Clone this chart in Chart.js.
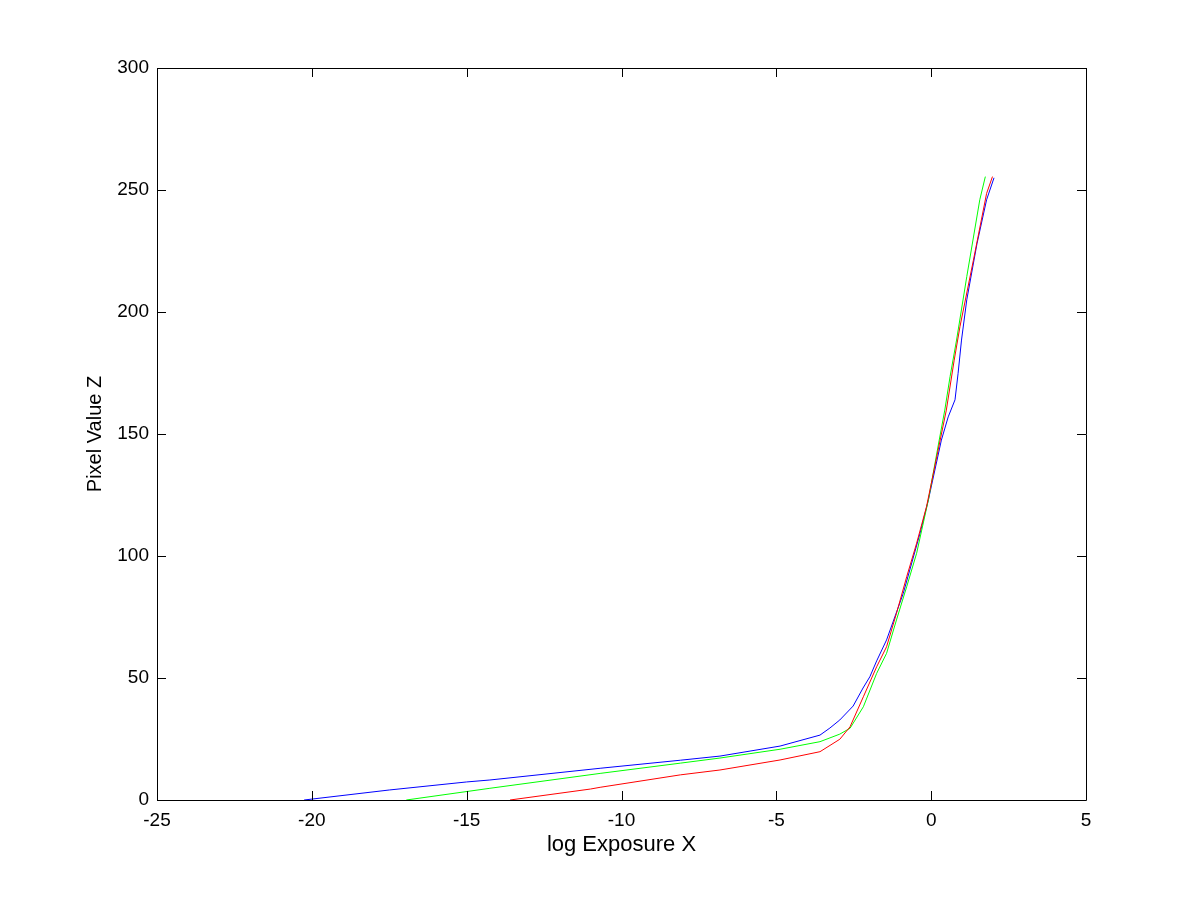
<!DOCTYPE html>
<html>
<head>
<meta charset="utf-8">
<title>Response curves</title>
<script src="https://cdn.jsdelivr.net/npm/chart.js@4.4.0/dist/chart.umd.min.js"></script>
<style>
  html, body { margin: 0; padding: 0; background: #fff; }
</style>
</head>
<body>
<canvas id="chart" width="1200" height="900"></canvas>
<script>
// ---- data (log exposure -> pixel value) ----
const redX   = [-13.6, -11, -10.69, -8.1, -6.82, -4.88, -3.59, -2.95, -2.62, -2.19, -1.76, -1.44, -1.12, -0.79, -0.47, -0.15, 0.49, 0.74, 0.93, 1.36, 1.79, 1.98];
const redY   = [0, 4.5, 5.2, 10.3, 12.3, 16.4, 19.8, 24.9, 30, 42.3, 54.6, 62.8, 76.5, 91.5, 105.2, 120.2, 159.8, 180, 194, 221, 248.6, 255.5];

const greenX = [-16.95, -14.25, -10.69, -8.1, -6.82, -4.88, -3.59, -2.95, -2.62, -2.19, -1.76, -1.44, -1.12, -0.79, -0.47, -0.09, 0.26, 0.44, 0.61, 0.82, 1.15, 1.57, 1.75];
const greenY = [0, 4.8, 10.9, 15.1, 17.2, 20.8, 23.9, 27, 29.4, 38.2, 51.9, 60.1, 73.8, 87.4, 101.1, 123, 147.5, 159.8, 173.5, 188.5, 214.5, 246, 255.5];

const blueX  = [-20.25, -17.5, -15, -14.25, -10.69, -8.1, -6.82, -4.88, -3.59, -3.27, -2.95, -2.52, -2.2, -1.98, -1.76, -1.44, -0.9, -0.36, -0.09, 0.33, 0.55, 0.77, 0.87, 0.98, 1.15, 1.48, 1.79, 2.03];
const blueY  = [0, 4.1, 7.4, 8.2, 13, 16.3, 18, 22.1, 26.6, 29.5, 32.8, 38.5, 45.9, 50.5, 57, 65.6, 84.7, 109.3, 123, 147.5, 157, 164, 174.9, 188.5, 205, 228, 246, 255];

const xTicks = [-25, -20, -15, -10, -5, 0, 5];
const yTicks = [0, 50, 100, 150, 200, 250, 300];

const FONT = '"Liberation Sans", Arial, Helvetica, sans-serif';

function toPoints(xs, ys) {
  return xs.map((x, i) => ({ x, y: ys[i] }));
}

function line(label, color, xs, ys) {
  return {
    label,
    data: toPoints(xs, ys),
    borderColor: color,
    backgroundColor: color,
    borderWidth: 1,
    pointRadius: 0,
    tension: 0,
    fill: false
  };
}

// box around the axes + inward tick marks on all four sides
const boxTicks = {
  id: 'boxTicks',
  afterDraw(chart) {
    const { ctx, chartArea: a, scales } = chart;
    const L = 9;
    const px = v => Math.round(v) + 0.5;
    ctx.save();
    ctx.strokeStyle = '#000';
    ctx.lineWidth = 1;
    ctx.beginPath();
    ctx.rect(px(a.left), px(a.top), Math.round(a.right) - Math.round(a.left), Math.round(a.bottom) - Math.round(a.top));
    xTicks.forEach(t => {
      const x = px(scales.x.getPixelForValue(t));
      ctx.moveTo(x, a.bottom); ctx.lineTo(x, a.bottom - L);
      ctx.moveTo(x, a.top);    ctx.lineTo(x, a.top + L);
    });
    yTicks.forEach(t => {
      const y = px(scales.y.getPixelForValue(t));
      ctx.moveTo(a.left, y);  ctx.lineTo(a.left + L, y);
      ctx.moveTo(a.right, y); ctx.lineTo(a.right - L, y);
    });
    ctx.stroke();
    ctx.restore();
  }
};

new Chart(document.getElementById('chart'), {
  type: 'line',
  data: {
    datasets: [
      line('R', '#ff0000', redX, redY),
      line('G', '#00ff00', greenX, greenY),
      line('B', '#0000ff', blueX, blueY)
    ]
  },
  options: {
    responsive: false,
    animation: false,
    layout: { padding: { left: 83, top: 68, right: 114, bottom: 42 } },
    plugins: {
      legend: { display: false },
      tooltip: { enabled: false }
    },
    scales: {
      x: {
        type: 'linear',
        min: -25,
        max: 5,
        afterBuildTicks: s => { s.ticks = xTicks.map(v => ({ value: v })); },
        afterFit: s => { s.height = 58; },
        grid: { display: false, drawTicks: false, tickLength: 0 },
        border: { display: false },
        ticks: { color: '#000', font: { family: FONT, size: 19 }, padding: 9, maxRotation: 0 },
        title: { display: true, text: 'log Exposure X', color: '#000', font: { family: FONT, size: 22 }, padding: 0 }
      },
      y: {
        type: 'linear',
        min: 0,
        max: 300,
        afterBuildTicks: s => { s.ticks = yTicks.map(v => ({ value: v })); },
        afterFit: s => { s.width = 74; },
        grid: { display: false, drawTicks: false, tickLength: 0 },
        border: { display: false },
        ticks: { color: '#000', font: { family: FONT, size: 19 }, padding: 8 },
        title: { display: true, text: 'Pixel Value Z', color: '#000', font: { family: FONT, size: 20 }, padding: 0 }
      }
    }
  },
  plugins: [boxTicks]
});
</script>
</body>
</html>
